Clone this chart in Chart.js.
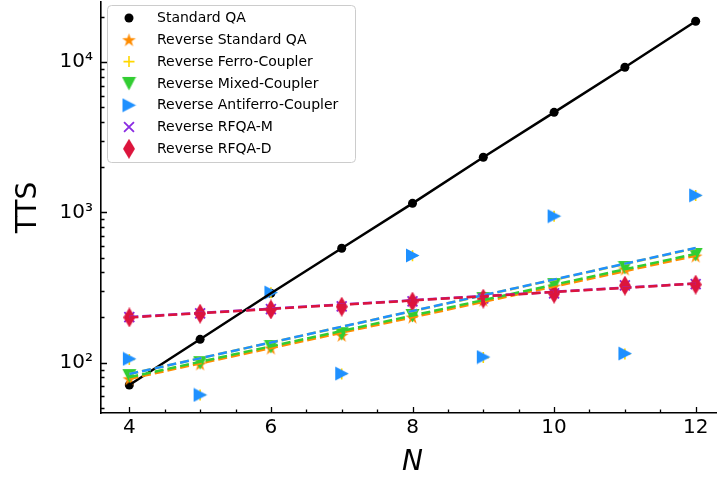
<!DOCTYPE html>
<html><head><meta charset="utf-8">
<script src="https://cdn.jsdelivr.net/npm/chart.js@4/dist/chart.umd.min.js"></script>
<style>html,body{margin:0;padding:0;overflow:hidden;background:#fff}#wrap{width:724px;height:480px;position:relative}</style>
</head><body><div id="wrap"><canvas id="c"></canvas></div>
<script>
// ---- data ----
const N = [4, 5, 6, 7, 8, 9, 10, 11, 12];
const FIT_N = [4, 12];
const standardQA      = [71, 143, 290, 578, 1150, 2330, 4640, 9270, 18750];
const revStandardQA   = [78, 98, 125, 152, 201, 261, 323, 420, 512];
const revFerro        = [105, 61, 292, 84, 515, 108, 945, 114, 1295];
const revMixed        = [82, 100, 128, 156, 206, 267, 331, 430, 525];
const revAntiferro    = [106, 61, 293, 84.5, 517, 109, 945, 115, 1300];
const revRFQAM        = [201, 213, 227, 237, 256, 268, 289, 327, 333];
const revRFQAD        = [200, 212, 226, 236, 255, 267, 288, 326, 331];
// dashed fit lines (end points)
const fitStandard  = [78, 515];
const fitFerro     = [84, 578];
const fitMixed     = [80, 530];
const fitAntiferro = [84, 580];
const fitRFQAM     = [201, 337];
const fitRFQAD     = [200, 336];
const LABELS = ['Standard QA','Reverse Standard QA','Reverse Ferro-Coupler','Reverse Mixed-Coupler','Reverse Antiferro-Coupler','Reverse RFQA-M','Reverse RFQA-D'];
const X_TICKS = [4, 6, 8, 10, 12];
const X_MINOR = [4.5, 5, 5.5, 6.5, 7, 7.5, 8.5, 9, 9.5, 10.5, 11, 11.5];
const Y_TICKS = [100, 1000, 10000];
const Y_TICK_LABELS = ['10\u00B2', '10\u00B3', '10\u2074'];
const Y_MINOR = [50,60,70,80,90,200,300,400,500,600,700,800,900,2000,3000,4000,5000,6000,7000,8000,9000,20000];

// ---- styling ----
const COLORS = ['#000000','#FF8C00','#FFD700','#32CD32','#1E90FF','#8A2BE2','#DC143C'];
const FONT = 'DejaVu Sans';

function makeCanvas(w, h, color, pathFn) {
  const c = document.createElement('canvas');
  c.width = w; c.height = h;
  const g = c.getContext('2d');
  g.fillStyle = color;
  g.beginPath(); pathFn(g, w, h); g.closePath(); g.fill();
  return c;
}
function starPath(g, w, h) {
  const cx = w/2, cy = h/2 + 0.6, R = w/2 - 0.3, r = R * 0.382;
  for (let i = 0; i < 10; i++) {
    const a = -Math.PI/2 + i*Math.PI/5, rr = i % 2 ? r : R;
    const px = cx + rr*Math.cos(a), py = cy + rr*Math.sin(a);
    i ? g.lineTo(px, py) : g.moveTo(px, py);
  }
}
const M_STAR = makeCanvas(15, 15, COLORS[1], starPath);
const M_TRI_DOWN = makeCanvas(15, 15, COLORS[3], (g,w,h)=>{g.moveTo(0.5,1);g.lineTo(w-0.5,1);g.lineTo(w/2,h-0.5);});
const M_TRI_RIGHT = makeCanvas(15, 15, COLORS[4], (g,w,h)=>{g.moveTo(1,0.5);g.lineTo(w-0.5,h/2);g.lineTo(1,h-0.5);});
const M_DIAMOND = makeCanvas(12, 20, COLORS[6], (g,w,h)=>{g.moveTo(w/2,0);g.lineTo(w,h/2);g.lineTo(w/2,h);g.lineTo(0,h/2);});

const MARKERS = [
  {style:'circle', radius:4.5, bw:0},
  {style:M_STAR},
  {style:'cross', radius:5.5, bw:1.6},
  {style:M_TRI_DOWN},
  {style:M_TRI_RIGHT},
  {style:'crossRot', radius:7, bw:1.8},
  {style:M_DIAMOND}
];

const SERIES = [standardQA, revStandardQA, revFerro, revMixed, revAntiferro, revRFQAM, revRFQAD];
const FITS = [null, fitStandard, fitFerro, fitMixed, fitAntiferro, fitRFQAM, fitRFQAD];

const datasets = [];
let ord = 100;
SERIES.forEach((vals, i) => {
  const m = MARKERS[i];
  datasets.push({
    label: LABELS[i], type: 'scatter',
    data: N.map((n, k) => ({x: n, y: vals[k]})),
    pointStyle: m.style, pointRadius: m.radius || 7, pointHoverRadius: m.radius || 7,
    backgroundColor: COLORS[i], borderColor: COLORS[i], borderWidth: m.bw || 0,
    showLine: false, order: ord--
  });
});
// solid black line through standard QA
datasets.push({
  label: 'standard-line', type: 'line',
  data: N.map((n, k) => ({x: n, y: standardQA[k]})),
  borderColor: '#000', borderWidth: 2.5, pointRadius: 0, fill: false, tension: 0, order: ord--
});
FITS.forEach((f, i) => {
  if (!f) return;
  datasets.push({
    label: 'fit-' + i, type: 'line',
    data: FIT_N.map((n, k) => ({x: n, y: f[k]})),
    borderColor: COLORS[i], borderWidth: 2.5, borderDash: [9, 4], pointRadius: 0, fill: false, tension: 0, order: ord--
  });
});

function drawMarker(ctx, i, x, y) {
  const m = MARKERS[i];
  ctx.save();
  ctx.fillStyle = COLORS[i]; ctx.strokeStyle = COLORS[i];
  if (m.style instanceof HTMLCanvasElement) {
    ctx.drawImage(m.style, x - m.style.width/2, y - m.style.height/2);
  } else if (m.style === 'circle') {
    ctx.beginPath(); ctx.arc(x, y, m.radius, 0, Math.PI*2); ctx.fill();
  } else if (m.style === 'cross') {
    ctx.lineWidth = m.bw; ctx.beginPath();
    ctx.moveTo(x - m.radius, y); ctx.lineTo(x + m.radius, y);
    ctx.moveTo(x, y - m.radius); ctx.lineTo(x, y + m.radius); ctx.stroke();
  } else if (m.style === 'crossRot') {
    const d = m.radius * Math.SQRT1_2;
    ctx.lineWidth = m.bw; ctx.beginPath();
    ctx.moveTo(x - d, y - d); ctx.lineTo(x + d, y + d);
    ctx.moveTo(x - d, y + d); ctx.lineTo(x + d, y - d); ctx.stroke();
  }
  ctx.restore();
}

const inTicks = {
  id: 'inTicks',
  afterDatasetsDraw(chart) {
    const {ctx, chartArea: a, scales: {x, y}} = chart;
    ctx.save(); ctx.strokeStyle = '#000'; ctx.lineWidth = 1.3;
    ctx.beginPath();
    X_TICKS.forEach(v => { const p = Math.round(x.getPixelForValue(v)) + 0.5; ctx.moveTo(p, a.bottom); ctx.lineTo(p, a.bottom - 6); });
    X_MINOR.forEach(v => { const p = Math.round(x.getPixelForValue(v)) + 0.5; ctx.moveTo(p, a.bottom); ctx.lineTo(p, a.bottom - 3.5); });
    Y_TICKS.forEach(v => { const p = Math.round(y.getPixelForValue(v)) + 0.5; ctx.moveTo(a.left, p); ctx.lineTo(a.left + 6, p); });
    Y_MINOR.forEach(v => { const p = Math.round(y.getPixelForValue(v)) + 0.5; ctx.moveTo(a.left, p); ctx.lineTo(a.left + 3.5, p); });
    ctx.stroke(); ctx.restore();
  }
};

const legendBox = {
  id: 'legendBox',
  afterDraw(chart) {
    const ctx = chart.ctx;
    const bx = 107.5, by = 5.5, bw = 248, bh = 157, r = 4;
    ctx.save();
    ctx.beginPath();
    ctx.moveTo(bx + r, by); ctx.lineTo(bx + bw - r, by); ctx.quadraticCurveTo(bx + bw, by, bx + bw, by + r);
    ctx.lineTo(bx + bw, by + bh - r); ctx.quadraticCurveTo(bx + bw, by + bh, bx + bw - r, by + bh);
    ctx.lineTo(bx + r, by + bh); ctx.quadraticCurveTo(bx, by + bh, bx, by + bh - r);
    ctx.lineTo(bx, by + r); ctx.quadraticCurveTo(bx, by, bx + r, by);
    ctx.closePath();
    ctx.fillStyle = 'rgba(255,255,255,0.8)'; ctx.fill();
    ctx.strokeStyle = '#cccccc'; ctx.lineWidth = 1; ctx.stroke();
    ctx.font = '14px "' + FONT + '"'; ctx.fillStyle = '#000'; ctx.textBaseline = 'middle'; ctx.textAlign = 'left';
    LABELS.forEach((t, i) => {
      const yy = 18 + i * 21.8;
      drawMarker(ctx, i, 129, yy);
      ctx.fillText(t, 157, yy + 0.5);
    });
    ctx.restore();
  }
};

function zeroPad(s) { s.paddingTop = 0; s.paddingBottom = 0; s.paddingLeft = 0; s.paddingRight = 0; }

new Chart(document.getElementById('c'), {
  type: 'scatter',
  data: { datasets },
  options: {
    responsive: true, maintainAspectRatio: false, animation: false,
    layout: { autoPadding: false, padding: { top: 2, right: 0, left: 0, bottom: 0 } },
    plugins: { legend: { display: false }, tooltip: { enabled: false } },
    scales: {
      x: {
        type: 'linear', min: 3.6, max: 12.4,
        afterBuildTicks: s => { s.ticks = X_TICKS.map(v => ({value: v})); },
        afterFit: s => { s.height = 67; zeroPad(s); },
        grid: { drawOnChartArea: false, drawTicks: false },
        border: { display: true, color: '#000', width: 1.6 },
        ticks: { color: '#000', font: { family: FONT, size: 20 }, padding: 3, maxRotation: 0, autoSkip: false },
        title: { display: true, text: 'N', color: '#000', font: { family: FONT, size: 28, style: 'italic' }, padding: { top: 2, bottom: 0 } }
      },
      y: {
        type: 'logarithmic', min: 46.2, max: 25200,
        afterBuildTicks: s => { s.ticks = Y_TICKS.map(v => ({value: v})); },
        afterFit: s => { s.width = 101; zeroPad(s); },
        grid: { drawOnChartArea: false, drawTicks: false },
        border: { display: true, color: '#000', width: 1.6 },
        ticks: { color: '#000', font: { family: FONT, size: 20 }, padding: 8, autoSkip: false,
                 callback: (v, idx) => Y_TICK_LABELS[idx] },
        title: { display: true, text: 'TTS', color: '#000', font: { family: FONT, size: 28 }, padding: { top: 12, bottom: 0 } }
      }
    }
  },
  plugins: [inTicks, legendBox]
});
</script>
</body></html>
